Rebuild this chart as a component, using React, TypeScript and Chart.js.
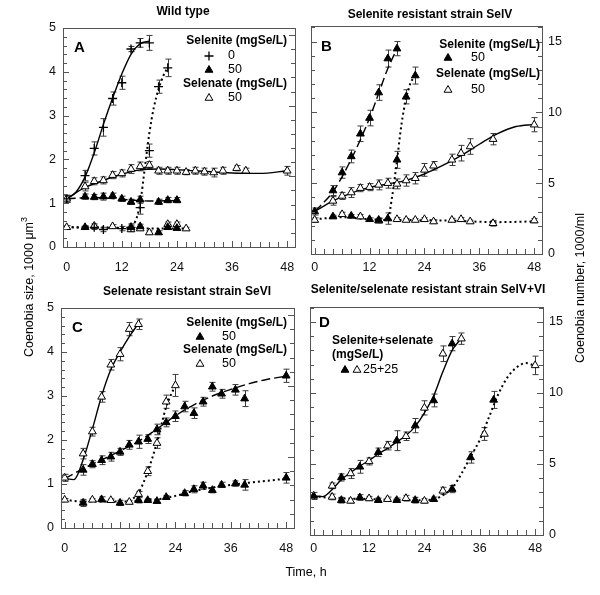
import React, { useEffect, useRef } from "react";
import { Chart, registerables } from "chart.js";

Chart.register(...registerables);

const FONT = "'Liberation Sans', Arial, Helvetica, sans-serif";

// ---------------- axis ticks ----------------
const timeLabels = [0, 12, 24, 36, 48];
const timeMinor = [0, 2, 4, 6, 8, 10, 12, 14, 16, 18, 20, 22, 24, 26, 28, 30, 32, 34, 36, 38, 40, 42, 44, 46, 48];
const sizeLabels = [0, 1, 2, 3, 4, 5];
const sizeMinor = [0, 0.2, 0.4, 0.6, 0.8, 1, 1.2, 1.4, 1.6, 1.8, 2, 2.2, 2.4, 2.6, 2.8, 3, 3.2, 3.4, 3.6, 3.8, 4, 4.2, 4.4, 4.6, 4.8, 5];
const numberLabels = [0, 5, 10, 15];
const numberMinor = [0, 1, 2, 3, 4, 5, 6, 7, 8, 9, 10, 11, 12, 13, 14, 15, 16];

// ---------------- Panel A : Wild type ----------------
const aPlusSizeT = [0, 4, 6, 8, 10, 12, 14, 16, 18];
const aPlusSizeV = [1.1, 1.63, 2.25, 2.73, 3.39, 3.75, 4.52, 4.66, 4.66];
const aPlusSizeE = [0.08, 0.12, 0.15, 0.2, 0.15, 0.15, 0.06, 0.1, 0.17];
const aPlusNumT = [6, 8, 12, 14, 16, 18, 20, 22];
const aPlusNumV = [0.45, 0.4, 0.42, 0.45, 0.9, 2.2, 3.66, 4.09];
const aPlusNumE = [0.05, 0.05, 0.05, 0.08, 0.15, 0.15, 0.15, 0.2];
const aTriSizeT = [4, 6, 8, 10, 12, 14, 16, 20, 22, 24];
const aTriSizeV = [1.15, 1.14, 1.15, 1.17, 1.1, 1.03, 1.08, 1.03, 1.07, 1.07];
const aTriSizeE = [0.06, 0.06, 0.08, 0.06, 0.06, 0.06, 0.08, 0.06, 0.06, 0.06];
const aTriNumT = [4, 14, 16, 20, 22, 24];
const aTriNumV = [0.45, 0.45, 0.47, 0.33, 0.45, 0.43];
const aTriNumE = [0.04, 0.05, 0.05, 0.04, 0.05, 0.04];
const aOpenSizeT = [0, 4, 6, 8, 10, 12, 14, 16, 18, 20, 22, 24, 26, 28, 30, 32, 34, 37, 39, 48];
const aOpenSizeV = [1.1, 1.38, 1.5, 1.52, 1.64, 1.68, 1.78, 1.84, 1.87, 1.74, 1.74, 1.74, 1.71, 1.74, 1.72, 1.7, 1.74, 1.8, 1.74, 1.74];
const aOpenSizeE = [0.08, 0.1, 0.08, 0.08, 0.08, 0.08, 0.1, 0.1, 0.08, 0.08, 0.08, 0.08, 0.06, 0.08, 0.08, 0.1, 0.08, 0.06, 0.06, 0.1];
const aOpenNumT = [0, 6, 10, 14, 16, 18, 22, 24, 26];
const aOpenNumV = [0.45, 0.48, 0.47, 0.4, 0.42, 0.33, 0.52, 0.52, 0.42];
const aOpenNumE = [0.04, 0.05, 0.04, 0.05, 0.04, 0.04, 0.05, 0.05, 0.03];
// fitted curves A
const aFitPlusSizeT = [0, 2, 4, 6, 8, 10, 12, 14, 16, 18];
const aFitPlusSizeV = [1.1, 1.25, 1.6, 2.15, 2.8, 3.4, 3.95, 4.4, 4.64, 4.7];
const aFitOpenSizeT = [0, 4, 8, 12, 16, 20, 28, 36, 42, 48];
const aFitOpenSizeV = [1.1, 1.36, 1.52, 1.66, 1.76, 1.78, 1.74, 1.69, 1.68, 1.74];
const aFitTriSizeT = [0, 6, 12, 18, 24];
const aFitTriSizeV = [1.1, 1.13, 1.09, 1.05, 1.06];
const aFitNumFlatT = [0, 6, 12, 18, 26];
const aFitNumFlatV = [0.45, 0.45, 0.43, 0.42, 0.42];
const aFitPlusNumT = [0, 8, 13, 15, 16, 17, 18, 19, 20, 21, 22];
const aFitPlusNumV = [0.45, 0.44, 0.44, 0.6, 1.0, 1.8, 2.6, 3.2, 3.6, 3.9, 4.1];

// ---------------- Panel B : SelV ----------------
const bTriFastT = [0, 4, 6, 8, 10, 12, 14, 16, 18];
const bTriFastV = [3.0, 4.48, 5.75, 6.89, 8.49, 9.6, 11.4, 13.8, 14.5];
const bTriFastE = [0.25, 0.35, 0.4, 0.45, 0.55, 0.55, 0.55, 0.6, 0.5];
const bTriDelayT = [16, 18, 20, 22];
const bTriDelayV = [2.5, 6.65, 11.1, 12.6];
const bTriDelayE = [0.4, 0.6, 0.5, 0.6];
const bOpenSlowT = [4, 6, 8, 10, 12, 14, 16, 18, 20, 22, 24, 26, 30, 32, 34, 39, 48];
const bOpenSlowV = [3.75, 4.1, 4.34, 4.65, 4.72, 4.88, 5.0, 4.95, 5.19, 5.35, 5.94, 6.23, 6.65, 7.12, 7.59, 8.11, 9.13];
const bOpenSlowE = [0.3, 0.25, 0.35, 0.25, 0.25, 0.35, 0.35, 0.35, 0.4, 0.4, 0.45, 0.3, 0.4, 0.55, 0.55, 0.4, 0.5];
const bTriLowT = [4, 8, 12, 14];
const bTriLowV = [2.64, 2.69, 2.45, 2.4];
const bTriLowE = [0.1, 0.1, 0.1, 0.15];
const bOpenLowT = [0, 6, 10, 14, 18, 20, 22, 24, 26, 30, 32, 34, 39, 48];
const bOpenLowV = [2.4, 2.8, 2.64, 2.35, 2.45, 2.4, 2.4, 2.45, 2.29, 2.4, 2.45, 2.29, 2.17, 2.36];
const bOpenLowE = [0.15, 0.15, 0.15, 0.15, 0.12, 0.1, 0.1, 0.12, 0.12, 0.12, 0.12, 0.1, 0.2, 0.15];
const bFitTriFastT = [0, 4, 8, 12, 16, 18];
const bFitTriFastV = [3.0, 4.4, 6.7, 9.6, 13.1, 14.5];
const bFitOpenT = [0, 4, 8, 12, 16, 20, 24, 28, 32, 36, 40, 44, 48];
const bFitOpenV = [3.0, 3.75, 4.3, 4.7, 4.95, 5.2, 5.65, 6.25, 6.95, 7.75, 8.5, 9.0, 9.15];
const bFitFlatT = [0, 6, 12, 20, 30, 40, 48];
const bFitFlatV = [2.45, 2.6, 2.45, 2.4, 2.35, 2.25, 2.3];
const bFitDelayT = [15, 16, 17, 18, 19, 20, 21, 22];
const bFitDelayV = [2.4, 2.5, 4.2, 6.6, 9.2, 11.0, 12.1, 12.6];

// ---------------- Panel C : SeVI ----------------
const cOpenFastT = [0, 4, 6, 8, 10, 12, 14, 16];
const cOpenFastV = [1.14, 1.69, 2.19, 2.98, 3.71, 3.95, 4.52, 4.63];
const cOpenFastE = [0.08, 0.12, 0.1, 0.12, 0.12, 0.15, 0.15, 0.12];
const cTriSlowT = [4, 6, 8, 10, 12, 14, 16, 18, 20, 22, 24, 26, 28, 30, 32, 34, 37, 39, 48];
const cTriSlowV = [1.32, 1.45, 1.54, 1.62, 1.73, 1.89, 1.96, 2.02, 2.24, 2.4, 2.54, 2.76, 2.61, 2.87, 3.21, 3.05, 3.14, 2.94, 3.46];
const cTriSlowE = [0.12, 0.08, 0.1, 0.1, 0.08, 0.1, 0.15, 0.1, 0.12, 0.1, 0.12, 0.12, 0.12, 0.1, 0.1, 0.1, 0.12, 0.18, 0.15];
const cOpenDelayT = [16, 18, 20, 22, 24];
const cOpenDelayV = [0.77, 1.29, 1.93, 2.87, 3.24];
const cOpenDelayE = [0.06, 0.1, 0.12, 0.15, 0.25];
const cTriLowT = [4, 8, 12, 16, 18, 20, 22, 26, 28, 30, 32, 34, 37, 39, 48];
const cTriLowV = [0.57, 0.65, 0.57, 0.63, 0.63, 0.61, 0.7, 0.79, 0.88, 0.96, 0.86, 0.98, 1.01, 0.98, 1.14];
const cTriLowE = [0.08, 0.06, 0.06, 0.06, 0.04, 0.04, 0.04, 0.06, 0.08, 0.08, 0.06, 0.06, 0.06, 0.12, 0.12];
const cOpenLowT = [0, 6, 10, 14];
const cOpenLowV = [0.64, 0.64, 0.63, 0.59];
const cOpenLowE = [0.03, 0.03, 0.03, 0.04];
const cFitOpenT = [0, 2, 4, 6, 8, 10, 12, 14, 16];
const cFitOpenV = [1.13, 1.1, 1.55, 2.25, 3.0, 3.6, 4.0, 4.35, 4.65];
const cFitTriT = [0, 4, 8, 12, 16, 20, 24, 28, 32, 36, 40, 44, 48];
const cFitTriV = [1.12, 1.35, 1.55, 1.75, 1.97, 2.25, 2.55, 2.8, 3.0, 3.15, 3.28, 3.38, 3.45];
const cFitLowT = [0, 4, 8, 12, 16, 20, 24, 28, 32, 36, 40, 48];
const cFitLowV = [0.64, 0.6, 0.6, 0.6, 0.62, 0.65, 0.73, 0.84, 0.92, 0.98, 1.03, 1.12];
const cFitDelayT = [14, 16, 18, 20, 22, 24];
const cFitDelayV = [0.6, 0.8, 1.28, 1.95, 2.75, 3.25];

// ---------------- Panel D : SelV+VI ----------------
const dTriUpT = [0, 6, 10, 14, 18, 22, 26, 30];
const dTriUpV = [2.75, 4.05, 4.8, 5.82, 6.64, 7.7, 9.47, 13.47];
const dTriUpE = [0.25, 0.25, 0.45, 0.3, 0.7, 0.5, 0.45, 0.5];
const dOpenUpT = [4, 8, 12, 16, 20, 24, 28, 32];
const dOpenUpV = [3.46, 4.33, 5.18, 6.29, 6.95, 8.95, 12.76, 13.82];
const dOpenUpE = [0.2, 0.35, 0.25, 0.3, 0.3, 0.5, 0.55, 0.4];
const dTriLowT = [6, 10, 14, 18, 22, 26, 30, 34, 39];
const dTriLowV = [2.45, 2.64, 2.45, 2.45, 2.45, 2.52, 3.23, 5.46, 9.51];
const dTriLowE = [0.2, 0.2, 0.15, 0.15, 0.2, 0.15, 0.25, 0.4, 0.6];
const dOpenLowT = [4, 8, 12, 16, 20, 24, 28, 37, 48];
const dOpenLowV = [2.68, 2.4, 2.57, 2.52, 2.59, 2.4, 3.11, 7.11, 11.94];
const dOpenLowE = [0.2, 0.15, 0.15, 0.15, 0.2, 0.15, 0.25, 0.45, 0.65];
const dFitUpT = [0, 2, 4, 6, 8, 10, 12, 14, 16, 18, 20, 22, 24, 26, 28, 30, 32];
const dFitUpV = [2.75, 2.7, 3.2, 3.9, 4.4, 4.85, 5.25, 5.7, 6.1, 6.55, 7.0, 7.65, 8.6, 9.8, 11.5, 13.0, 13.85];
const dFitLowT = [0, 4, 10, 16, 22, 26, 28, 30, 32, 34, 36, 38, 40, 42, 44, 46, 48];
const dFitLowV = [2.75, 2.6, 2.55, 2.5, 2.45, 2.5, 2.8, 3.3, 4.3, 5.5, 6.7, 8.3, 9.9, 11.1, 11.8, 12.1, 11.9];

// ---------------- helpers ----------------
const SOLID: number[] = [];
const DASHED = [9, 4];
const DOTTED = [2, 3];
const TRI_R = 4.5;

type Mk = "plus" | "tri" | "open";

function pts(t: number[], v: number[]) {
  return t.map((x, i) => ({ x, y: v[i] }));
}

function markers(t: number[], v: number[], e: number[], mk: Mk, axis: string) {
  return {
    type: "line",
    data: pts(t, v),
    errors: e,
    yAxisID: axis,
    showLine: false,
    pointStyle: mk === "plus" ? "cross" : "triangle",
    pointRadius: mk === "plus" ? 4.5 : TRI_R,
    pointHoverRadius: 4,
    pointBorderWidth: mk === "plus" ? 1.3 : 1,
    pointBorderColor: "#000",
    pointBackgroundColor: mk === "open" ? "#fff" : "#000",
    borderColor: "#000",
    backgroundColor: "#000",
  };
}

function curve(t: number[], v: number[], dash: number[], axis: string) {
  const dotted = dash === DOTTED;
  return {
    type: "line",
    data: pts(t, v),
    yAxisID: axis,
    borderColor: "#000",
    borderWidth: dotted ? 2 : 1.4,
    borderDash: dash,
    pointRadius: 0,
    pointHoverRadius: 0,
    cubicInterpolationMode: "monotone",
    fill: false,
  };
}

function setFont(ctx: CanvasRenderingContext2D, size: number, bold: boolean) {
  ctx.font = `${bold ? "bold " : ""}${size}px ${FONT}`;
}

function text(ctx: CanvasRenderingContext2D, s: string, x: number, y: number, size = 12, bold = false, align: CanvasTextAlign = "left") {
  setFont(ctx, size, bold);
  ctx.textAlign = align;
  ctx.textBaseline = "middle";
  ctx.fillStyle = "#000";
  ctx.fillText(s, x, y);
}

function drawMk(ctx: CanvasRenderingContext2D, mk: Mk, x: number, y: number) {
  ctx.save();
  ctx.strokeStyle = "#000";
  ctx.beginPath();
  if (mk === "plus") {
    ctx.lineWidth = 1.3;
    ctx.moveTo(x - 4.5, y);
    ctx.lineTo(x + 4.5, y);
    ctx.moveTo(x, y - 4.5);
    ctx.lineTo(x, y + 4.5);
    ctx.stroke();
  } else {
    const r = TRI_R;
    ctx.lineWidth = 1;
    ctx.moveTo(x, y - r);
    ctx.lineTo(x + r * 0.866, y + r / 2);
    ctx.lineTo(x - r * 0.866, y + r / 2);
    ctx.closePath();
    ctx.fillStyle = mk === "open" ? "#fff" : "#000";
    ctx.fill();
    ctx.stroke();
  }
  ctx.restore();
}

const errorBarPlugin = {
  id: "errorBars",
  beforeDatasetsDraw(chart: any) {
    const ctx = chart.ctx;
    chart.data.datasets.forEach((ds: any, i: number) => {
      if (!ds.errors) return;
      const meta = chart.getDatasetMeta(i);
      const ys = chart.scales[ds.yAxisID];
      ctx.save();
      ctx.strokeStyle = "#3a3a3a";
      ctx.lineWidth = 1;
      meta.data.forEach((pt: any, j: number) => {
        const d = ds.data[j];
        const e = ds.errors[j];
        const x = Math.round(pt.x) + 0.5;
        const y1 = ys.getPixelForValue(d.y + e);
        const y2 = ys.getPixelForValue(d.y - e);
        ctx.beginPath();
        ctx.moveTo(x, y1);
        ctx.lineTo(x, y2);
        ctx.moveTo(x - 3, y1);
        ctx.lineTo(x + 3, y1);
        ctx.moveTo(x - 3, y2);
        ctx.lineTo(x + 3, y2);
        ctx.stroke();
      });
      ctx.restore();
    });
  },
};

type LegendItem =
  | { kind: "text"; s: string; x: number; y: number; bold?: boolean; align?: CanvasTextAlign; size?: number }
  | { kind: "mk"; mk: Mk; x: number; y: number };

interface PanelCfg {
  id: string;
  rect: { l: number; t: number; r: number; b: number };
  xPad: number;
  leftLabels: boolean;
  rightLabels: boolean;
  y2Max: number;
  leftTickAxis: string;
  leftMinor: number[];
  leftMajor: number[];
  datasets: any[];
  title: { s: string; x: number; y: number };
  letter: { s: string; x: number; y: number };
  legend: LegendItem[];
  global?: boolean;
}

function makeFramePlugin(p: PanelCfg) {
  return {
    id: "frame" + p.id,
    afterDraw(chart: any) {
      const ctx = chart.ctx;
      const { left, right, top, bottom } = chart.chartArea;
      ctx.save();
      ctx.strokeStyle = "#555";
      ctx.lineWidth = 1;
      ctx.strokeRect(Math.round(left) + 0.5, Math.round(top) + 0.5, Math.round(right - left), Math.round(bottom - top));
      ctx.beginPath();
      const xs = chart.scales.x;
      timeMinor.forEach((t) => {
        const px = Math.round(xs.getPixelForValue(t)) + 0.5;
        const len = timeLabels.includes(t) ? 6 : 5;
        ctx.moveTo(px, bottom);
        ctx.lineTo(px, bottom - len);
      });
      const ls = chart.scales[p.leftTickAxis];
      p.leftMinor.forEach((v) => {
        const py = Math.round(ls.getPixelForValue(v)) + 0.5;
        const len = p.leftMajor.includes(v) ? 6 : 4;
        ctx.moveTo(left, py);
        ctx.lineTo(left + len, py);
      });
      const rs = chart.scales.y2;
      numberMinor.forEach((v) => {
        if (v > p.y2Max) return;
        const py = Math.round(rs.getPixelForValue(v)) + 0.5;
        const len = numberLabels.includes(v) ? 6 : 4;
        ctx.moveTo(right, py);
        ctx.lineTo(right - len, py);
      });
      ctx.stroke();
      ctx.restore();
    },
  };
}

function makeDecoPlugin(p: PanelCfg) {
  return {
    id: "deco" + p.id,
    afterDraw(chart: any) {
      const ctx = chart.ctx;
      ctx.save();
      text(ctx, p.title.s, p.title.x, p.title.y, 12, true, "center");
      text(ctx, p.letter.s, p.letter.x, p.letter.y, 15, true, "left");
      p.legend.forEach((it) => {
        if (it.kind === "text") text(ctx, it.s, it.x, it.y, it.size || 12, !!it.bold, it.align || "left");
        else drawMk(ctx, it.mk, it.x, it.y);
      });
      if (p.global) {
        ctx.save();
        ctx.translate(30, 287);
        ctx.rotate(-Math.PI / 2);
        setFont(ctx, 12.5, false);
        const main = "Coenobia size, 1000 \u03bcm";
        const w1 = ctx.measureText(main).width;
        setFont(ctx, 9, false);
        const w2 = ctx.measureText("3").width;
        const x0 = -(w1 + w2) / 2;
        text(ctx, main, x0, 0, 12.5, false, "left");
        text(ctx, "3", x0 + w1, -5, 9, false, "left");
        ctx.restore();
        ctx.save();
        ctx.translate(581, 288);
        ctx.rotate(-Math.PI / 2);
        text(ctx, "Coenobia number, 1000/ml", 0, 0, 12.5, false, "center");
        ctx.restore();
        text(ctx, "Time, h", 306, 573, 12.5, false, "center");
      }
      ctx.restore();
    },
  };
}

function tickFont() {
  return { family: FONT, size: 12.5 };
}

function buildConfig(p: PanelCfg): any {
  const { l, t, r, b } = p.rect;
  return {
    type: "line",
    data: { datasets: p.datasets },
    options: {
      responsive: false,
      animation: false,
      events: [],
      layout: { padding: { left: 0, top: t, right: 0, bottom: 0 } },
      plugins: { legend: { display: false }, tooltip: { enabled: false }, title: { display: false } },
      scales: {
        x: {
          type: "linear",
          min: -0.8,
          max: 49.7,
          afterFit: (s: any) => {
            s.height = 595 - b;
          },
          afterBuildTicks: (s: any) => {
            s.ticks = timeLabels.map((v) => ({ value: v }));
          },
          grid: { display: false, drawTicks: false },
          border: { display: false },
          ticks: { padding: p.xPad, font: tickFont(), color: "#111", maxRotation: 0, autoSkip: false, callback: (v: any) => String(v) },
        },
        y: {
          type: "linear",
          position: "left",
          min: 0,
          max: 5,
          afterFit: (s: any) => {
            s.width = l;
          },
          afterBuildTicks: (s: any) => {
            s.ticks = sizeLabels.map((v) => ({ value: v }));
          },
          grid: { display: false, drawTicks: false },
          border: { display: false },
          ticks: { display: p.leftLabels, padding: 7, font: tickFont(), color: "#111", callback: (v: any) => String(v) },
        },
        y2: {
          type: "linear",
          position: "right",
          min: 0,
          max: p.y2Max,
          afterFit: (s: any) => {
            s.width = 600 - r;
          },
          afterBuildTicks: (s: any) => {
            s.ticks = numberLabels.map((v) => ({ value: v }));
          },
          grid: { display: false, drawTicks: false },
          border: { display: false },
          ticks: { display: p.rightLabels, padding: 6, font: tickFont(), color: "#111", callback: (v: any) => String(v) },
        },
      },
    },
    plugins: [errorBarPlugin, makeFramePlugin(p), makeDecoPlugin(p)],
  };
}

const selLegend = (right: number, mkX: number, numX: number, rows: number[], items: { mk: Mk; s: string }[][]): LegendItem[] => {
  const out: LegendItem[] = [];
  out.push({ kind: "text", s: "Selenite (mgSe/L)", x: right, y: rows[0], bold: true, align: "right" });
  let ri = 1;
  items[0].forEach((it) => {
    out.push({ kind: "mk", mk: it.mk, x: mkX, y: rows[ri] });
    out.push({ kind: "text", s: it.s, x: numX, y: rows[ri], size: 12.5 });
    ri++;
  });
  out.push({ kind: "text", s: "Selenate (mgSe/L)", x: right, y: rows[ri], bold: true, align: "right" });
  ri++;
  items[1].forEach((it) => {
    out.push({ kind: "mk", mk: it.mk, x: mkX, y: rows[ri] });
    out.push({ kind: "text", s: it.s, x: numX, y: rows[ri], size: 12.5 });
    ri++;
  });
  return out;
};

const panels: PanelCfg[] = [
  {
    id: "A",
    rect: { l: 63, t: 28, r: 295, b: 247 },
    xPad: 13,
    leftLabels: true,
    rightLabels: false,
    y2Max: 15.5,
    leftTickAxis: "y",
    leftMinor: sizeMinor,
    leftMajor: sizeLabels,
    datasets: [
      markers(aPlusSizeT, aPlusSizeV, aPlusSizeE, "plus", "y"),
      markers(aPlusNumT, aPlusNumV, aPlusNumE, "plus", "y"),
      markers(aTriSizeT, aTriSizeV, aTriSizeE, "tri", "y"),
      markers(aTriNumT, aTriNumV, aTriNumE, "tri", "y"),
      markers(aOpenSizeT, aOpenSizeV, aOpenSizeE, "open", "y"),
      markers(aOpenNumT, aOpenNumV, aOpenNumE, "open", "y"),
      curve(aFitPlusSizeT, aFitPlusSizeV, SOLID, "y"),
      curve(aFitOpenSizeT, aFitOpenSizeV, SOLID, "y"),
      curve(aFitTriSizeT, aFitTriSizeV, DASHED, "y"),
      curve(aFitNumFlatT, aFitNumFlatV, DOTTED, "y"),
      curve(aFitPlusNumT, aFitPlusNumV, DOTTED, "y"),
    ],
    title: { s: "Wild type", x: 183, y: 12 },
    letter: { s: "A", x: 74, y: 48 },
    legend: selLegend(287, 209, 228, [41, 56, 70, 84, 98], [
      [
        { mk: "plus", s: "0" },
        { mk: "tri", s: "50" },
      ],
      [{ mk: "open", s: "50" }],
    ]),
    global: true,
  },
  {
    id: "B",
    rect: { l: 311, t: 26, r: 542, b: 254 },
    xPad: 6,
    leftLabels: false,
    rightLabels: true,
    y2Max: 16.1,
    leftTickAxis: "y2",
    leftMinor: numberMinor,
    leftMajor: numberLabels,
    datasets: [
      markers(bTriFastT, bTriFastV, bTriFastE, "tri", "y2"),
      markers(bTriDelayT, bTriDelayV, bTriDelayE, "tri", "y2"),
      markers(bTriLowT, bTriLowV, bTriLowE, "tri", "y2"),
      markers(bOpenSlowT, bOpenSlowV, bOpenSlowE, "open", "y2"),
      markers(bOpenLowT, bOpenLowV, bOpenLowE, "open", "y2"),
      curve(bFitTriFastT, bFitTriFastV, DASHED, "y2"),
      curve(bFitOpenT, bFitOpenV, SOLID, "y2"),
      curve(bFitFlatT, bFitFlatV, DOTTED, "y2"),
      curve(bFitDelayT, bFitDelayV, DOTTED, "y2"),
    ],
    title: { s: "Selenite resistant strain SelV", x: 430, y: 15 },
    letter: { s: "B", x: 321, y: 47 },
    legend: selLegend(540, 448, 471, [45, 58, 74, 90], [[{ mk: "tri", s: "50" }], [{ mk: "open", s: "50" }]]),
  },
  {
    id: "C",
    rect: { l: 61, t: 308, r: 294, b: 528 },
    xPad: 13,
    leftLabels: true,
    rightLabels: false,
    y2Max: 15.5,
    leftTickAxis: "y",
    leftMinor: sizeMinor,
    leftMajor: sizeLabels,
    datasets: [
      markers(cOpenFastT, cOpenFastV, cOpenFastE, "open", "y"),
      markers(cTriSlowT, cTriSlowV, cTriSlowE, "tri", "y"),
      markers(cOpenDelayT, cOpenDelayV, cOpenDelayE, "open", "y"),
      markers(cTriLowT, cTriLowV, cTriLowE, "tri", "y"),
      markers(cOpenLowT, cOpenLowV, cOpenLowE, "open", "y"),
      curve(cFitOpenT, cFitOpenV, SOLID, "y"),
      curve(cFitTriT, cFitTriV, DASHED, "y"),
      curve(cFitLowT, cFitLowV, DOTTED, "y"),
      curve(cFitDelayT, cFitDelayV, DOTTED, "y"),
    ],
    title: { s: "Selenate resistant strain SeVI", x: 187, y: 292 },
    letter: { s: "C", x: 72, y: 328 },
    legend: selLegend(287, 200, 222, [323, 337, 350, 364], [[{ mk: "tri", s: "50" }], [{ mk: "open", s: "50" }]]),
  },
  {
    id: "D",
    rect: { l: 310, t: 307, r: 543, b: 535 },
    xPad: 6,
    leftLabels: false,
    rightLabels: true,
    y2Max: 16.05,
    leftTickAxis: "y2",
    leftMinor: numberMinor,
    leftMajor: numberLabels,
    datasets: [
      markers(dTriUpT, dTriUpV, dTriUpE, "tri", "y2"),
      markers(dOpenUpT, dOpenUpV, dOpenUpE, "open", "y2"),
      markers(dTriLowT, dTriLowV, dTriLowE, "tri", "y2"),
      markers(dOpenLowT, dOpenLowV, dOpenLowE, "open", "y2"),
      curve(dFitUpT, dFitUpV, SOLID, "y2"),
      curve(dFitLowT, dFitLowV, DOTTED, "y2"),
    ],
    title: { s: "Selenite/selenate resistant strain SelV+VI", x: 428, y: 290 },
    letter: { s: "D", x: 319, y: 323 },
    legend: [
      { kind: "text", s: "Selenite+selenate", x: 332, y: 341, bold: true },
      { kind: "text", s: "(mgSe/L)", x: 332, y: 355, bold: true },
      { kind: "mk", mk: "tri", x: 345, y: 370 },
      { kind: "mk", mk: "open", x: 357, y: 370 },
      { kind: "text", s: "25+25", x: 363, y: 370, size: 12.5 },
    ],
  },
];

function Panel({ cfg }: { cfg: PanelCfg }) {
  const ref = useRef<HTMLCanvasElement | null>(null);
  useEffect(() => {
    if (!ref.current) return;
    const chart = new Chart(ref.current, buildConfig(cfg));
    return () => chart.destroy();
  }, [cfg]);
  return <canvas ref={ref} width={600} height={595} style={{ position: "absolute", left: 0, top: 0, width: 600, height: 595 }} />;
}

export default function App() {
  return (
    <div style={{ position: "fixed", left: 0, top: 0, width: 600, height: 595, background: "#fff", overflow: "hidden" }}>
      {panels.map((p) => (
        <Panel key={p.id} cfg={p} />
      ))}
    </div>
  );
}
